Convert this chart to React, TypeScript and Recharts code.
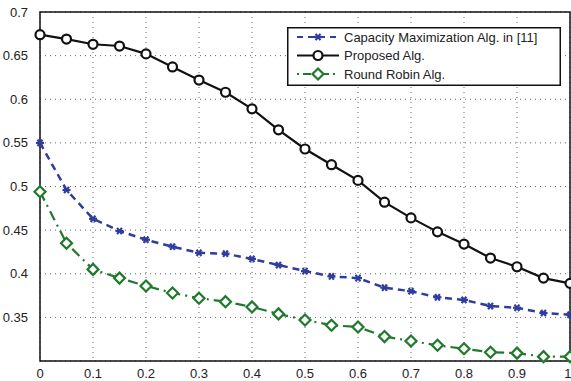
import { LineChart, Line, XAxis, YAxis, CartesianGrid, ReferenceArea } from 'recharts'

const xValues = [0, 0.05, 0.1, 0.15, 0.2, 0.25, 0.3, 0.35, 0.4, 0.45, 0.5, 0.55, 0.6, 0.65, 0.7, 0.75, 0.8, 0.85, 0.9, 0.95, 1]
const capacityMax = [0.55, 0.496, 0.463, 0.449, 0.439, 0.431, 0.424, 0.423, 0.417, 0.41, 0.403, 0.397, 0.395, 0.384, 0.38, 0.373, 0.37, 0.363, 0.361, 0.355, 0.353]
const proposed = [0.674, 0.669, 0.663, 0.661, 0.652, 0.637, 0.622, 0.608, 0.589, 0.565, 0.543, 0.525, 0.507, 0.482, 0.464, 0.448, 0.434, 0.418, 0.408, 0.395, 0.389]
const roundRobin = [0.494, 0.435, 0.405, 0.395, 0.386, 0.378, 0.372, 0.368, 0.362, 0.354, 0.347, 0.341, 0.339, 0.328, 0.323, 0.318, 0.314, 0.31, 0.309, 0.305, 0.305]
const xTicks = [0, 0.1, 0.2, 0.3, 0.4, 0.5, 0.6, 0.7, 0.8, 0.9, 1]
const yTicks = [0.35, 0.4, 0.45, 0.5, 0.55, 0.6, 0.65, 0.7]

const data = xValues.map((x, i) => ({ x, cap: capacityMax[i], prop: proposed[i], rr: roundRobin[i] }))

const BLUE = '#2f3d9e'
const GREEN = '#1f7a2c'
const FONT = 'Liberation Sans, Arial, sans-serif'

const Star = (props: any) => {
  const { cx, cy } = props
  if (cx == null || cy == null) return null
  const r = 4
  return (
    <g stroke={BLUE} strokeWidth={2.2}>
      <line x1={cx - r} y1={cy} x2={cx + r} y2={cy} />
      <line x1={cx - r * 0.6} y1={cy - r * 0.8} x2={cx + r * 0.6} y2={cy + r * 0.8} />
      <line x1={cx - r * 0.6} y1={cy + r * 0.8} x2={cx + r * 0.6} y2={cy - r * 0.8} />
    </g>
  )
}

const Circle = (props: any) => {
  const { cx, cy } = props
  if (cx == null || cy == null) return null
  return <circle cx={cx} cy={cy} r={4.5} fill="white" stroke="#111" strokeWidth={2.2} />
}

const Diamond = (props: any) => {
  const { cx, cy } = props
  if (cx == null || cy == null) return null
  const r = 5.5
  return <path d={`M${cx},${cy - r}L${cx + r},${cy}L${cx},${cy + r}L${cx - r},${cy}Z`} fill="white" stroke={GREEN} strokeWidth={2.2} />
}

function LegendBox() {
  const items = [
    { label: 'Capacity Maximization Alg. in [11]', color: BLUE, dash: '6 5', marker: 'star' },
    { label: 'Proposed Alg.', color: '#111', dash: undefined, marker: 'circle' },
    { label: 'Round Robin Alg.', color: GREEN, dash: '2 4 8 4', marker: 'diamond' },
  ]
  return (
    <svg width={274} height={59} style={{ display: 'block' }}>
      <rect x={0.75} y={0.75} width={272.5} height={57.5} fill="white" stroke="#111" strokeWidth={1.5} />
      {items.map((it, i) => {
        const y = 10 + i * 18.5
        return (
          <g key={it.label}>
            <line x1={10} y1={y} x2={52} y2={y} stroke={it.color} strokeWidth={2} strokeDasharray={it.dash} />
            {it.marker === 'star' && <Star cx={31} cy={y} />}
            {it.marker === 'circle' && <Circle cx={31} cy={y} />}
            {it.marker === 'diamond' && <Diamond cx={31} cy={y} />}
            <text x={57} y={y + 4.5} fontSize={13} fontFamily={FONT} fill="#222">{it.label}</text>
          </g>
        )
      })}
    </svg>
  )
}

export default function App() {
  return (
    <div style={{ position: 'absolute', left: 0, top: 0, width: 571, height: 381, background: 'white' }}>
      <LineChart width={571} height={381} data={data} margin={{ top: 12, right: 1, bottom: 0, left: 0 }}>
        <CartesianGrid stroke="#666" strokeDasharray="1 4" strokeWidth={1} />
        <XAxis
          dataKey="x"
          type="number"
          domain={[0, 1]}
          ticks={xTicks}
          tickFormatter={(v: number) => String(v)}
          height={20}
          tickLine={false}
          axisLine={false}
          tickMargin={2}
          tick={{ fontSize: 13, fill: '#222', fontFamily: FONT }}
        />
        <YAxis
          type="number"
          domain={[0.3, 0.7]}
          ticks={yTicks}
          tickFormatter={(v: number) => String(v)}
          width={40}
          tickLine={false}
          axisLine={false}
          tickMargin={6}
          tick={{ fontSize: 13, fill: '#222', fontFamily: FONT }}
        />
        <ReferenceArea x1={0} x2={1} y1={0.3} y2={0.7} fill="none" stroke="#111" strokeWidth={1.5} ifOverflow="visible" />
        <Line
          dataKey="cap"
          name="Capacity Maximization Alg. in [11]"
          stroke={BLUE}
          strokeWidth={2.5}
          strokeDasharray="7 5"
          dot={<Star />}
          isAnimationActive={false}
        />
        <Line
          dataKey="prop"
          name="Proposed Alg."
          stroke="#111"
          strokeWidth={2.2}
          dot={<Circle />}
          isAnimationActive={false}
        />
        <Line
          dataKey="rr"
          name="Round Robin Alg."
          stroke={GREEN}
          strokeWidth={2.2}
          strokeDasharray="10 5 2 5"
          dot={<Diamond />}
          isAnimationActive={false}
        />
      </LineChart>
      <div style={{ position: 'absolute', left: 287, top: 27 }}>
        <LegendBox />
      </div>
    </div>
  )
}
